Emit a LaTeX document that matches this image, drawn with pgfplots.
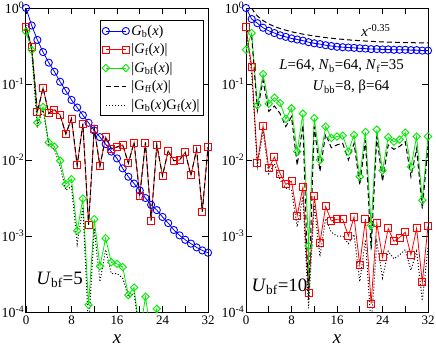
\documentclass[border=0pt]{standalone}
\usepackage{fontspec}
\setmainfont{Liberation Serif}
\usepackage{pgfplots}
\usepackage{pgfplotstable}
\pgfplotsset{compat=1.18}

\definecolor{cb}{RGB}{0,0,255}
\definecolor{cf}{RGB}{255,0,0}
\definecolor{cbf}{RGB}{0,235,0}
\newcommand{\sub}[1]{\textsubscript{#1}}

% left panel, U_bf = 5
\pgfplotstableread{
x gb gf gbf gff gbgf
0 1 0.56 0.49 0.56 0.60
1 0.589 0.31 0.28 0.31 0.28
2 0.380 0.043 0.031 0.043 0.028
3 0.263 0.089 0.050 0.089 0.045
4 0.191 0.041 0.017 0.041 0.016
5 0.145 0.046 0.015 0.046 0.0138
6 0.107 0.039 0.0098 0.039 0.0083
7 0.0813 0.022 0.0048 0.022 0.0040
8 0.0617 0.035 0.0056 0.035 0.0045
9 0.0490 0.0085 0.00117 0.0085 0.00079
10 0.0389 0.030 0.0031 0.030 0.0024
11 0.0309 0.0014 0.000124 0.0014 0.00006
12 0.0245 0.026 0.00166 0.026 0.00126
13 0.0200 0.0083 0.00040 0.0083 0.00025
14 0.0162 0.020 0.00093 0.020 0.00066
15 0.0129 0.014 0.00045 0.014 0.00032
16 0.0105 0.0148 0.00043 0.0148 0.00032
17 0.00776 0.0158 0.00039 0.0158 0.00028
18 0.00603 0.0091 0.000167 0.0091 0.000158
19 0.00490 0.017 0.00021 0.017 0.000178
20 0.00398 0.0034 0.00005 0.0034 0.00005
21 0.00316 0.017 0.000159 0.017 0.00008
22 0.00257 0.0016 0.00005 0.0016 0.00003
23 0.00219 0.0158 0.00011 0.0158 nan
24 0.00178 0.0062 0.00003 0.0062 nan
25 0.00148 0.0132 nan 0.0132 nan
26 0.00120 0.0098 nan 0.0098 nan
27 0.00102 0.0100 nan 0.0100 nan
28 0.000891 0.0126 nan 0.0126 nan
29 0.000794 0.0063 nan 0.0063 nan
30 0.000708 0.0138 nan 0.0138 nan
31 0.000646 0.0021 nan 0.0021 nan
32 0.000603 0.0148 nan 0.0148 nan
}\leftdata

% right panel, U_bf = 10
\pgfplotstableread{
x gb gf gbf gff gbgf
0 1 0.562 0.282 0.525 0.537
1 0.716 0.170 0.468 0.417 0.141
2 0.631 0.00912 0.0525 0.0447 0.00832
3 0.550 0.0282 0.135 0.112 0.0240
4 0.501 0.00776 0.0550 0.0437 0.00661
5 0.468 0.0110 0.0661 0.0513 0.00891
6 0.437 0.00661 0.0562 0.0407 0.00550
7 0.417 0.00479 0.0347 0.0275 0.00427
8 0.398 0.00525 0.0479 0.0372 0.00407
9 0.385 0.00186 0.0129 0.00851 0.00132
10 0.372 0.00437 0.0407 0.0288 0.00331
11 0.355 0.000178 0.000741 0.000145 0.000112
12 0.343 0.00339 0.0355 0.0275 0.00257
13 0.335 0.000813 0.0100 0.00708 0.000537
14 0.324 0.00245 0.0275 0.0219 0.00170
15 0.316 0.00158 0.0195 0.0145 0.00112
16 0.309 0.00166 0.0204 0.0158 0.00100
17 0.305 0.00166 0.0209 0.0166 0.00100
18 0.302 0.00100 0.0129 0.0100 0.000794
19 0.299 0.00178 0.0214 0.0166 0.00105
20 0.295 0.000417 0.00603 0.00468 0.000251
21 0.292 0.00166 0.0234 0.0182 0.000891
22 0.288 0.000129 0.00138 0.000661 0.0000631
23 0.288 0.00148 0.0251 0.0204 0.000832
24 0.285 0.000525 0.00724 0.00525 0.000282
25 0.285 0.00126 0.0200 0.0158 0.000631
26 0.282 0.000851 0.0174 0.0138 0.000501
27 0.282 0.000955 0.0186 0.0151 0.000562
28 0.282 0.00112 0.0229 0.0174 0.000661
29 0.279 0.000562 0.00813 0.00603 0.000355
30 0.279 0.00126 0.0204 0.0141 0.000631
31 0.275 0.000245 0.00295 0.00229 0.000141
32 0.275 0.00135 0.0204 0.0151 0.000708
}\rightdata

\pgfplotsset{
  panelbox/.style={
    scale only axis, width=182bp, height=304bp, anchor=south west,
    xmin=0, xmax=32, ymin=1e-4, ymax=1,
    xtick={0,4,...,32}, xticklabels={0,,8,,16,,24,,32},
    ytick={1e-4,1e-3,1e-2,1e-1,1},
    yticklabels={10\textsuperscript{-4},10\textsuperscript{-3},10\textsuperscript{-2},10\textsuperscript{-1},10\textsuperscript{0}},
    yminorticks=false,
    tick align=inside, major tick length=6bp,
    axis line style={line width=1bp},
    tick style={line width=0.8bp, black},
    x tick label style={font=\fontsize{13}{13}\selectfont},
    y tick label style={font=\fontsize{14}{14}\selectfont, inner sep=1.5bp},
    xlabel={\textit{x}},
    xlabel style={font=\fontsize{19}{19}\selectfont, at={(rel axis cs:0.5,0)}, anchor=base, yshift=-31bp},
  },
  sgb/.style={cb, line width=0.8bp, mark=o, mark size=3.6bp, mark options={line width=0.9bp}},
  sgf/.style={cf, line width=0.8bp, mark=square, mark size=3.5bp, mark options={line width=0.9bp}},
  sgbf/.style={cbf, line width=0.8bp, mark=square, mark size=2.6bp, mark options={rotate=45, line width=0.9bp}},
  sgff/.style={black, line width=1bp, dash pattern=on 5bp off 3bp},
  sgbgf/.style={black, line width=1bp, dash pattern=on 1bp off 2bp},
}

\begin{document}
\begin{tikzpicture}
\useasboundingbox (0,0) rectangle (436bp,346bp);

\begin{axis}[ymode=log, panelbox, at={(26bp,34bp)},
  legend style={at={(0.978,0.961)}, anchor=north east, draw=black, line width=0.8bp,
    font=\fontsize{14.5}{16}\selectfont, row sep=3bp, inner xsep=2bp, inner ysep=3bp,
    cells={anchor=west}},
  legend image code/.code={\draw[mark repeat=1,mark phase=1,#1] plot coordinates {(0bp,0bp) (20bp,0bp)};},
]
\addplot[sgb] table[x=x, y=gb] {\leftdata};
\addlegendentry{\textit{G}\sub{b}(\textit{x})}
\addplot[sgf] table[x=x, y=gf] {\leftdata};
\addlegendentry{|\textit{G}\sub{f}(\textit{x})|}
\addplot[sgbf] table[x=x, y=gbf] {\leftdata};
\addlegendentry{|\textit{G}\sub{bf}(\textit{x})|}
\addplot[sgff] table[x=x, y=gff] {\leftdata};
\addlegendentry{|G\sub{ff}(\textit{x})|}
\addplot[sgbgf] table[x=x, y=gbgf] {\leftdata};
\addlegendentry{|G\sub{b}(\textit{x})G\sub{f}(\textit{x})|}
\node[anchor=base west, font=\fontsize{19}{19}\selectfont] at (rel axis cs:0.038,0.092) {\textit{U}\sub{bf}=5};
\end{axis}

\begin{axis}[ymode=log, panelbox, at={(246bp,34bp)}]
\addplot[sgb] table[x=x, y=gb] {\rightdata};
\addplot[sgf] table[x=x, y=gf] {\rightdata};
\addplot[sgbf] table[x=x, y=gbf] {\rightdata};
% error bars of two points
\addplot[cbf, line width=0.8bp] coordinates {(11,0.000741) (11,0.00018)};
\addplot[cbf, line width=0.8bp] coordinates {(22,0.00138) (22,0.00069)};
\addplot[sgff] table[x=x, y=gff] {\rightdata};
\addplot[sgbgf] table[x=x, y=gbgf] {\rightdata};
% chord-length power law
\addplot[black, line width=1bp, dash pattern=on 5bp off 3bp] coordinates {
(1,1.0) (1.5,0.868) (2,0.785) (3,0.682) (4,0.617) (5,0.571) (6,0.537) (7,0.510)
(8,0.487) (9,0.469) (10,0.453) (12,0.428) (14,0.408) (16,0.393) (18,0.381)
(20,0.371) (22,0.364) (24,0.358) (26,0.3535) (28,0.3505) (30,0.3487) (32,0.3481)};
\node[anchor=base west, font=\fontsize{15}{15}\selectfont] at (rel axis cs:0.615,0.905) {\textit{x}\textsuperscript{-0.35}};
\node[anchor=base, font=\fontsize{15}{15}\selectfont] at (rel axis cs:0.525,0.797) {\textit{L}=64, \textit{N}\sub{b}=64, \textit{N}\sub{f}=35};
\node[anchor=base, font=\fontsize{15}{15}\selectfont] at (rel axis cs:0.577,0.727) {\textit{U}\sub{bb}=8, β=64};
\node[anchor=base west, font=\fontsize{19}{19}\selectfont] at (rel axis cs:0.011,0.069) {\textit{U}\sub{bf}=10};
\end{axis}
\end{tikzpicture}
\end{document}
